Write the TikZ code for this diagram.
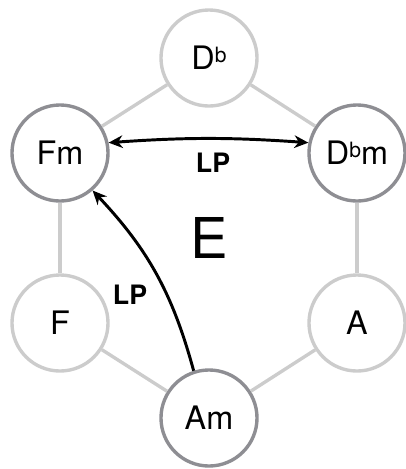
\documentclass[tikz,border=0pt]{standalone}
\usepackage{fontspec}
\setmainfont{TeX Gyre Heros}
\usetikzlibrary{arrows.meta, positioning}
\definecolor{ringlight}{HTML}{CCCCCC}
\definecolor{ringdark}{HTML}{8E8E93}
\newcommand{\flatmark}{\raisebox{0.45ex}{\fontsize{15}{15}\selectfont b}}
\begin{document}
\begin{tikzpicture}[
    x=0.025cm, y=-0.025cm,
    chord/.style={circle, draw=ringlight, line width=2.4pt, fill=white,
        minimum size=2.4cm, inner sep=0pt, font=\fontsize{23}{23}\selectfont},
    keychord/.style={chord, draw=ringdark},
    edge/.style={draw=ringlight, line width=2.4pt},
    move/.style={draw=black, line width=2.1pt, -{Stealth[length=10pt, width=9pt]}},
    movelabel/.style={font=\bfseries\fontsize{19}{19}\selectfont}
]
\useasboundingbox (0,0) rectangle (406,469);
% vertices of the hexagon
\node[chord] (Db) at (209,58) {D\flatmark};
\node[keychord] (Fm) at (60,153) {Fm};
\node[keychord] (Dbm) at (357,153) {D\flatmark m};
\node[chord] (F) at (60,323) {F};
\node[chord] (A) at (357,323) {A};
\node[keychord] (Am) at (209,418) {Am};
\node[font=\fontsize{40}{40}\selectfont] (key) at (209,238) {E};
% sides
\draw[edge] (Db) -- (Fm);
\draw[edge] (Db) -- (Dbm);
\draw[edge] (Fm) -- (F);
\draw[edge] (Dbm) -- (A);
\draw[edge] (F) -- (Am);
\draw[edge] (A) -- (Am);
% transformations
\draw[move, {Stealth[length=10pt, width=9pt]}-{Stealth[length=10pt, width=9pt]}] (Fm.12) to[bend left=4] (Dbm.168);
\node[movelabel] (lpTop) at (213,163) {LP};
\draw[move] (Am.108) to[bend right=14] (Fm.-49);
\node[movelabel] (lpLeft) at (130,295) {LP};
\end{tikzpicture}
\end{document}
